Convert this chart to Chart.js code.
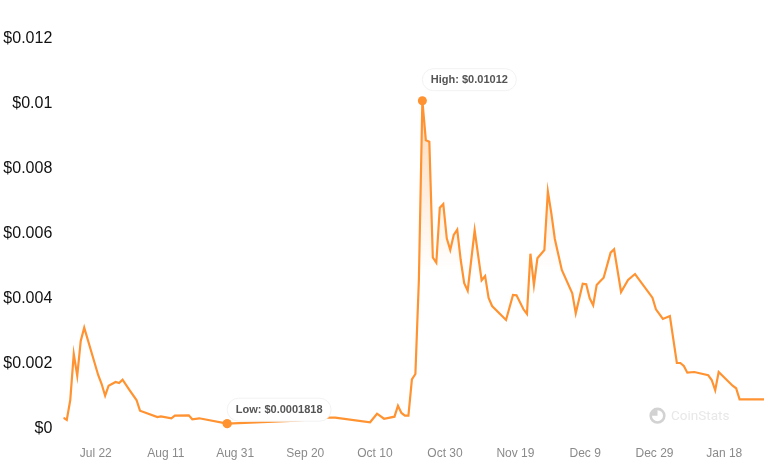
<!DOCTYPE html>
<html>
<head>
<meta charset="utf-8">
<title>Price chart</title>
<script src="https://cdn.jsdelivr.net/npm/chart.js"></script>
<style>
  html, body { margin: 0; padding: 0; background: #fff; }
  canvas { display: block; }
</style>
</head>
<body>
<canvas id="priceChart" width="764" height="472"></canvas>
<script>
// ─────────────────────────────────────────────
// DATA
// ─────────────────────────────────────────────
const days = [0, 1, 2, 3, 4, 5, 6, 10, 11, 12, 13, 15, 16, 17, 19, 21, 22, 27, 28, 31, 32, 36, 37, 39, 47,
  67, 76, 78, 88, 90, 92, 95, 96, 97, 98, 99, 100, 101, 102, 103, 104, 105, 106, 107, 108, 109, 110,
  111, 112, 113, 114, 115, 116, 118, 120, 121, 122, 123, 127, 129, 130, 132, 133, 134, 135, 136, 138,
  139, 140, 141, 143, 146, 147, 149, 150, 151, 152, 153, 154, 155, 157, 158, 160, 162, 164, 169, 170,
  172, 174, 176, 177, 178, 179, 181, 185, 186, 187, 188, 192, 193, 194, 201];

const prices = [0.000366, 0.000295, 0.00091, 0.002326, 0.001658, 0.002726, 0.003135, 0.00168, 0.001403,
  0.001043, 0.001351, 0.001465, 0.001434, 0.001535, 0.001218, 0.00091, 0.000582, 0.000388, 0.000409,
  0.000348, 0.000428, 0.00044, 0.000317, 0.000348, 0.0001818,
  0.000274, 0.000366, 0.000366, 0.000225, 0.000489, 0.000335, 0.000397, 0.000735, 0.000511, 0.000428,
  0.000428, 0.001542, 0.001711, 0.004603, 0.01012, 0.008902, 0.008858, 0.005295, 0.005135, 0.006828,
  0.006942, 0.005886, 0.005526, 0.005988, 0.006151, 0.005218, 0.004502, 0.004274, 0.006132, 0.004594,
  0.004726, 0.004049, 0.003803, 0.003372, 0.004142, 0.004132, 0.003702, 0.003557, 0.005412, 0.004449,
  0.005271, 0.005526, 0.007332, 0.006655, 0.005865, 0.004911, 0.004194, 0.003578, 0.004489, 0.004471,
  0.00404, 0.003825, 0.004449, 0.004563, 0.004674, 0.005443, 0.005548, 0.004234, 0.004603, 0.004788,
  0.004058, 0.003702, 0.003403, 0.003495, 0.002049, 0.002049, 0.001957, 0.001751, 0.001772, 0.001671,
  0.001526, 0.001209, 0.001772, 0.001351, 0.001271, 0.000932, 0.000932];

const xTickDays = [9.3, 29.4, 49.3, 69.4, 89.4, 109.5, 129.7, 149.7, 169.6, 189.6];
const xTickLabels = ['Jul 22', 'Aug 11', 'Aug 31', 'Sep 20', 'Oct 10', 'Oct 30', 'Nov 19', 'Dec 9', 'Dec 29', 'Jan 18'];
const yTickValues = [0, 0.002, 0.004, 0.006, 0.008, 0.01, 0.012];
const yTickLabels = ['$0', '$0.002', '$0.004', '$0.006', '$0.008', '$0.01', '$0.012'];

const lowDay = 47;
const lowPrice = 0.0001818;
const highDay = 103;
const highPrice = 0.01012;

const orange = '#ff9332';
const FONT = '"Liberation Sans", Arial, sans-serif';

// ─────────────────────────────────────────────
// LOW / HIGH PILLS + WATERMARK
// ─────────────────────────────────────────────
function drawPill(ctx, x, y, w, h, text) {
  ctx.beginPath();
  ctx.roundRect(x, y, w, h, h / 2);
  ctx.fillStyle = '#fff';
  ctx.fill();
  ctx.strokeStyle = '#f2f2f2';
  ctx.lineWidth = 1;
  ctx.stroke();
  ctx.fillStyle = '#555';
  ctx.font = 'bold 11px ' + FONT;
  ctx.textAlign = 'center';
  ctx.textBaseline = 'middle';
  ctx.fillText(text, x + w / 2, y + h / 2);
}

const annotations = {
  id: 'annotations',
  afterDatasetsDraw(chart) {
    const { ctx, scales } = chart;
    const lowX = scales.x.getPixelForValue(lowDay);
    const lowY = scales.y.getPixelForValue(lowPrice);
    const highX = scales.x.getPixelForValue(highDay);
    const highY = scales.y.getPixelForValue(highPrice);
    ctx.save();
    drawPill(ctx, lowX, lowY - 25.5, 104, 23, 'Low: $' + lowPrice);
    drawPill(ctx, highX, highY - 32, 94, 22, 'High: $' + highPrice);

    // redraw the low dot, the pill must not cover it
    ctx.beginPath();
    ctx.arc(lowX, lowY, 4.5, 0, Math.PI * 2);
    ctx.fillStyle = orange;
    ctx.fill();

    // watermark
    const cx = 657.5, cy = 415.7;
    ctx.strokeStyle = '#d2d2d2';
    ctx.lineWidth = 2.6;
    ctx.beginPath();
    ctx.arc(cx, cy, 6.8, 0, Math.PI * 2);
    ctx.stroke();
    ctx.fillStyle = '#d2d2d2';
    ctx.beginPath();
    ctx.moveTo(cx, cy);
    ctx.arc(cx, cy, 6, Math.PI, Math.PI * 1.5);
    ctx.closePath();
    ctx.fill();
    ctx.fillStyle = '#e8e8e8';
    ctx.font = '13.5px Roboto, ' + FONT;
    ctx.textAlign = 'left';
    ctx.textBaseline = 'middle';
    ctx.fillText('CoinStats', 671, cy + 0.5);
    ctx.restore();
  }
};

// ─────────────────────────────────────────────
// CHART
// ─────────────────────────────────────────────
const ctx = document.getElementById('priceChart').getContext('2d');

const fillGradient = ctx.createLinearGradient(0, 100, 0, 270);
fillGradient.addColorStop(0, 'rgba(255, 147, 50, 0.36)');
fillGradient.addColorStop(1, 'rgba(255, 147, 50, 0)');

new Chart(ctx, {
  type: 'line',
  data: {
    datasets: [{
      data: days.map((d, i) => ({ x: d, y: prices[i] })),
      borderColor: orange,
      borderWidth: 2.2,
      backgroundColor: fillGradient,
      fill: 'start',
      tension: 0,
      pointRadius: (c) => (c.raw.x === lowDay || c.raw.x === highDay ? 4.5 : 0),
      pointBackgroundColor: orange,
      pointBorderWidth: 0
    }]
  },
  options: {
    responsive: false,
    animation: false,
    layout: { padding: { top: 39.6, left: 0, right: 0, bottom: 0 } },
    plugins: { legend: { display: false }, tooltip: { enabled: false } },
    scales: {
      x: {
        type: 'linear',
        min: 0,
        max: 201,
        grid: { display: false, drawTicks: false },
        border: { display: false },
        afterBuildTicks: (s) => { s.ticks = xTickDays.map((v) => ({ value: v })); },
        afterFit: (s) => { s.height = 42.4; },
        ticks: {
          autoSkip: false,
          maxRotation: 0,
          padding: 17,
          color: '#8a8a8a',
          font: { family: FONT, size: 12 },
          callback: (v) => xTickLabels[xTickDays.indexOf(v)]
        }
      },
      y: {
        min: 0,
        max: 0.012,
        grid: { display: false, drawTicks: false },
        border: { display: false },
        afterBuildTicks: (s) => { s.ticks = yTickValues.map((v) => ({ value: v })); },
        afterFit: (s) => { s.width = 63.3; },
        ticks: {
          padding: 11,
          labelOffset: -1.5,
          color: '#111',
          font: { family: FONT, size: 16 },
          callback: (v) => yTickLabels[yTickValues.indexOf(v)]
        }
      }
    }
  },
  plugins: [annotations]
});
</script>
</body>
</html>
